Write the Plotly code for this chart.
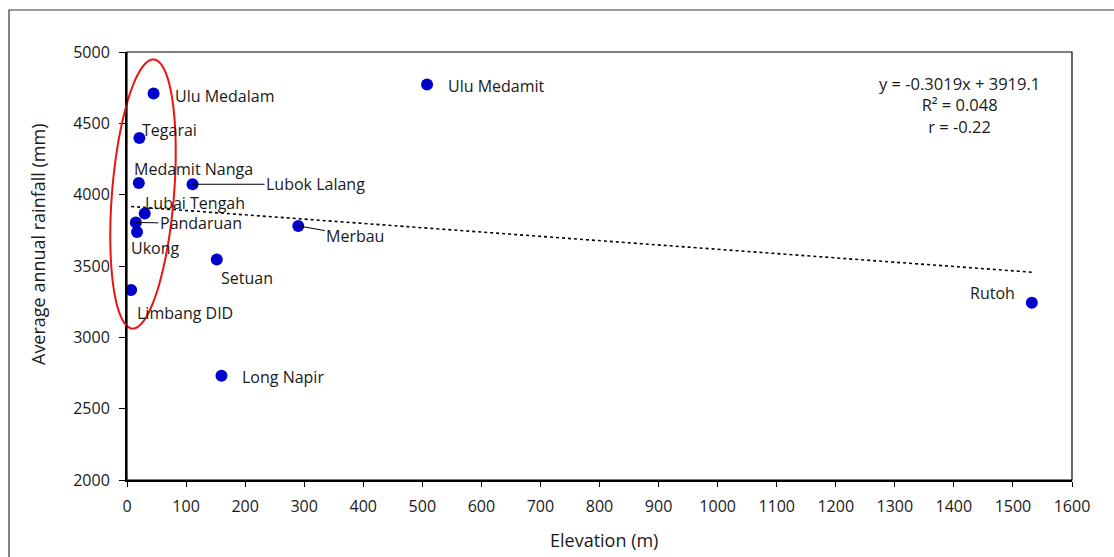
import numpy as np
import plotly.graph_objects as go

stations = ["Ulu Medalam", "Tegarai", "Medamit Nanga", "Lubok Lalang", "Lubai Tengah",
            "Pandaruan", "Ukong", "Limbang DID", "Setuan", "Merbau", "Long Napir",
            "Ulu Medamit", "Rutoh"]
elevation = [45, 21, 20, 111, 30, 15, 17, 7, 152, 290, 160, 508, 1532]
rainfall = [4709, 4398, 4082, 4073, 3868, 3805, 3739, 3331, 3546, 3781, 2731, 4772, 3242]

slope, intercept = -0.3019, 3919.1
eq_text = "y = -0.3019x + 3919.1<br>R² = 0.048<br>r = -0.22"

x_ticks = list(range(0, 1601, 100))
y_ticks = list(range(2000, 5001, 500))

FONT = "Open Sans"
TXT = "#1a1a1a"
W, H = 1114, 557
ML, MR, MT, MB = 127, 42, 52, 77
PW, PH = W - ML - MR, H - MT - MB

fig = go.Figure()

xt = np.array([min(elevation), max(elevation)])
fig.add_trace(go.Scatter(x=xt, y=slope * xt + intercept, mode="lines",
                         line=dict(color="black", width=1.6, dash="dot"),
                         hoverinfo="skip", showlegend=False))
fig.add_trace(go.Scatter(x=elevation, y=rainfall, mode="markers",
                         marker=dict(color="#0000CC", size=12),
                         showlegend=False))

plain = {
    "Ulu Medalam": (19, -2, "left"),
    "Tegarai": (1, 8, "left"),
    "Medamit Nanga": (-7, 14, "left"),
    "Lubai Tengah": (-2, 11, "left"),
    "Ukong": (-8, -16, "left"),
    "Limbang DID": (4, -23, "left"),
    "Setuan": (2, -19, "left"),
    "Long Napir": (18, -1, "left"),
    "Ulu Medamit": (19, -1, "left"),
    "Rutoh": (-15, 10, "right"),
}
leader = {
    "Lubok Lalang": (123, 0),
    "Pandaruan": (65, 1),
    "Merbau": (57, 10),
}
for name, xv, yv in zip(stations, elevation, rainfall):
    if name in plain:
        xs, ys, xa = plain[name]
        fig.add_annotation(x=xv, y=yv, text=name, showarrow=False, xanchor=xa,
                           yanchor="middle", xshift=xs, yshift=ys,
                           font=dict(family=FONT, size=16, color=TXT))
    else:
        ax, ay = leader[name]
        fig.add_annotation(x=xv, y=yv, text=name, showarrow=True, arrowhead=0,
                           arrowwidth=1, arrowcolor="black", ax=ax, ay=ay,
                           borderpad=1,
                           font=dict(family=FONT, size=16, color=TXT))

fig.add_annotation(xref="paper", yref="paper", x=(959 - ML) / PW, y=1 - (105 - MT) / PH,
                   text=eq_text, showarrow=False, align="center", xanchor="center",
                   yanchor="middle", font=dict(family=FONT, size=16.5, color=TXT))

fig.add_annotation(xref="paper", yref="paper", x=(38 - ML) / PW, y=(H - MB - 245) / PH,
                   text="Average annual rainfall (mm)", textangle=-90, showarrow=False,
                   xanchor="center", yanchor="middle",
                   font=dict(family=FONT, size=18, color=TXT))
fig.add_annotation(xref="paper", yref="paper", x=(604 - ML) / PW, y=(H - MB - 540) / PH,
                   text="Elevation (m)", showarrow=False, xanchor="center", yanchor="middle",
                   font=dict(family=FONT, size=18, color=TXT))

# red ellipse around the low-elevation cluster (paper coords, not clipped)
cx_px, cy_px = 143.0, 194.0
a_px, b_px, tilt = 135.0, 31.0, np.deg2rad(4.6)
t = np.linspace(0, 2 * np.pi, 90)
ux = b_px * np.cos(t)
uy = a_px * np.sin(t)
px = cx_px + ux * np.cos(tilt) + uy * np.sin(tilt)
py = cy_px - (-ux * np.sin(tilt) + uy * np.cos(tilt))
ex = (px - ML) / PW
ey = 1 - (py - MT) / PH
path = "M " + " L ".join(f"{a:.5f},{b:.5f}" for a, b in zip(ex, ey)) + " Z"
fig.add_shape(type="path", path=path, xref="paper", yref="paper",
              line=dict(color="#EE1111", width=2))

fig.add_shape(type="rect", xref="paper", yref="paper", x0=0, x1=1, y0=0, y1=1,
              line=dict(color="black", width=1.2))
fig.add_shape(type="rect", xref="paper", yref="paper",
              x0=(9 - ML) / PW, x1=1.3, y0=-0.5, y1=1 + (MT - 10) / PH,
              line=dict(color="#333333", width=1.2))

fig.update_xaxes(range=[0, 1600], tickvals=x_ticks, ticks="outside", ticklen=5,
                 tickcolor="black", showline=True, linecolor="black", linewidth=2,
                 showgrid=False, zeroline=False, ticklabelstandoff=6,
                 tickfont=dict(family=FONT, size=16, color=TXT))
fig.update_yaxes(range=[2000, 5000], tickvals=y_ticks, ticks="outside", ticklen=6,
                 tickcolor="black", showline=True, linecolor="black", linewidth=2,
                 showgrid=False, zeroline=False, ticklabelstandoff=6,
                 tickfont=dict(family=FONT, size=16, color=TXT))

fig.update_layout(width=W, height=H, margin=dict(l=ML, r=MR, t=MT, b=MB),
                  plot_bgcolor="white", paper_bgcolor="white")

fig.write_html("out.html")
